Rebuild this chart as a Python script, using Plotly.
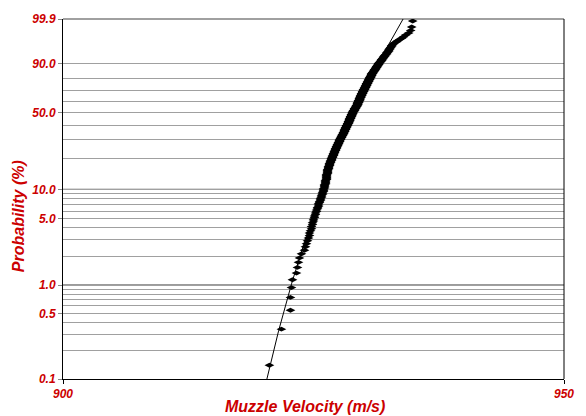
import numpy as np
import plotly.graph_objects as go

# ---- data ----
# muzzle velocity measurements (m/s) as a frequency table
velocity_values = [
    920.6, 921.8, 922.7, 922.8, 922.9, 923.3, 923.4, 923.5, 923.6, 923.8,
    924.1, 924.2, 924.3, 924.4, 924.5, 924.6, 924.7, 924.8, 924.9,
    925.0, 925.1, 925.2, 925.3, 925.4, 925.5, 925.6, 925.7, 925.8, 925.9,
    926.0, 926.1, 926.2, 926.3, 926.4, 926.5, 926.6, 926.7, 926.8, 926.9,
    927.0, 927.1, 927.2, 927.3, 927.4, 927.5, 927.6, 927.7, 927.8, 927.9,
    928.0, 928.1, 928.2, 928.3, 928.4, 928.5, 928.6, 928.7, 928.8, 928.9,
    929.0, 929.1, 929.2, 929.3, 929.4, 929.5, 929.6, 929.7, 929.8, 929.9,
    930.0, 930.1, 930.2, 930.3, 930.4, 930.5, 930.6, 930.7, 930.8, 930.9,
    931.0, 931.1, 931.2, 931.3, 931.4, 931.5, 931.6, 931.7, 931.8, 931.9,
    932.0, 932.1, 932.2, 932.3, 932.4, 932.5, 932.6, 932.7, 932.8, 932.9,
    933.0, 933.1, 933.3, 933.4, 933.6, 933.8, 934.0, 934.2, 934.5, 934.7,
    934.8, 934.9,
]
velocity_counts = [
    1, 1, 2, 1, 1, 1, 1, 1, 1, 1,
    1, 1, 1, 1, 1, 2, 1, 2, 2,
    2, 2, 2, 2, 2, 3, 2, 3, 3, 3,
    4, 5, 6, 9, 8, 6, 6, 5, 6, 5,
    6, 6, 6, 6, 6, 6, 7, 6, 6, 6,
    7, 8, 8, 8, 7, 9, 10, 9, 10, 9,
    7, 8, 7, 8, 11, 10, 11, 10, 10, 9,
    9, 8, 9, 9, 8, 8, 8, 7, 8, 5,
    5, 5, 5, 5, 4, 5, 3, 3, 4, 3,
    3, 3, 2, 3, 2, 3, 2, 2, 2, 1,
    1, 1, 1, 1, 1, 1, 1, 1, 1, 1,
    1, 1,
]

# fitted 3-parameter Weibull (location, scale, shape)
fit_location = 911.6
fit_scale = 18.2
fit_shape = 9.43

prob_tick_values = [0.1, 0.5, 1, 5, 10, 50, 90, 99.9]          # percent
prob_tick_labels = ["0.1", "0.5", "1.0", "5.0", "10.0", "50.0", "90.0", "99.9"]
grid_probs = [0.2, 0.3, 0.4, 0.6, 0.7, 0.8, 0.9,
              2, 3, 4, 6, 7, 8, 9,
              20, 30, 40, 60, 70, 80]
x_tick_values = [900, 950]
x_tick_labels = ["900", "950"]

x_title = "Muzzle Velocity (m/s)"
y_title = "Probability (%)"


def weibull_scale(p_percent):
    p = np.asarray(p_percent, dtype=float) / 100.0
    return np.log(-np.log(1.0 - p))


# ---- derived ----
velocities = np.repeat(velocity_values, velocity_counts)
n = len(velocities)
ranks = np.arange(1, n + 1)
median_rank = (ranks - 0.3) / (n + 0.4) * 100.0
y_points = weibull_scale(median_rank)

y_lo = float(weibull_scale(0.1))
y_hi = float(weibull_scale(99.9))
w_line = np.linspace(y_lo, y_hi, 200)
x_line = fit_location + fit_scale * np.exp(w_line / fit_shape)

RED = "#CC0000"
FONT = "Liberation Sans"
GRID = "#a0a0a0"

fig = go.Figure()
fig.add_trace(go.Scatter(
    x=velocities, y=y_points, mode="markers",
    marker=dict(symbol="diamond-wide", size=7, color="black", line=dict(width=0)),
    showlegend=False, hoverinfo="skip"))
fig.add_trace(go.Scatter(
    x=x_line, y=w_line, mode="lines",
    line=dict(color="black", width=1),
    showlegend=False, hoverinfo="skip"))

tick_font = dict(family=FONT, size=12, color=RED, weight="bold", style="italic")
title_font = dict(family=FONT, size=16, color=RED, weight="bold", style="italic")

fig.update_layout(
    width=586, height=416,
    margin=dict(l=63, r=22, t=17, b=37),
    paper_bgcolor="white", plot_bgcolor="white",
    xaxis=dict(
        range=[900, 950], tickvals=x_tick_values, ticktext=x_tick_labels,
        ticks="outside", ticklen=4, tickcolor="black",
        showline=True, linecolor="black", linewidth=1,
        showgrid=False, zeroline=False, tickfont=tick_font,
    ),
    yaxis=dict(
        range=[y_lo, y_hi],
        tickvals=list(weibull_scale(prob_tick_values)), ticktext=prob_tick_labels,
        ticks="outside", ticklen=4, tickcolor="#888888",
        showline=True, linecolor="black", linewidth=1,
        showgrid=True, gridcolor=GRID, gridwidth=1,
        zeroline=False, tickfont=tick_font,
        minor=dict(tickvals=list(weibull_scale(grid_probs)), showgrid=True,
                   gridcolor=GRID, gridwidth=1, ticks=""),
    ),
    shapes=[
        dict(type="line", xref="paper", yref="y", x0=0, x1=1,
             y0=float(weibull_scale(10)), y1=float(weibull_scale(10)),
             line=dict(color="black", width=1), layer="below"),
        dict(type="line", xref="paper", yref="y", x0=0, x1=1,
             y0=float(weibull_scale(1)), y1=float(weibull_scale(1)),
             line=dict(color="#7a7a7a", width=1.5), layer="below"),
        dict(type="line", xref="paper", yref="paper", x0=0, x1=1, y0=1, y1=1,
             line=dict(color="#808080", width=1.5), layer="below"),
        dict(type="line", xref="paper", yref="paper", x0=1, x1=1, y0=0, y1=1,
             line=dict(color="black", width=1)),
    ],
    annotations=[
        dict(text=x_title, xref="paper", yref="paper", x=0.483, y=-0.076,
             xanchor="center", yanchor="middle", showarrow=False, font=title_font),
        dict(text=y_title, xref="paper", yref="paper", x=-0.09, y=0.452,
             xanchor="center", yanchor="middle", showarrow=False, font=title_font,
             textangle=-90),
    ],
)

fig.write_html(
    "out.html",
    config={"displayModeBar": False},
    post_script="document.body.style.margin='0';document.body.style.overflow='hidden';",
)
